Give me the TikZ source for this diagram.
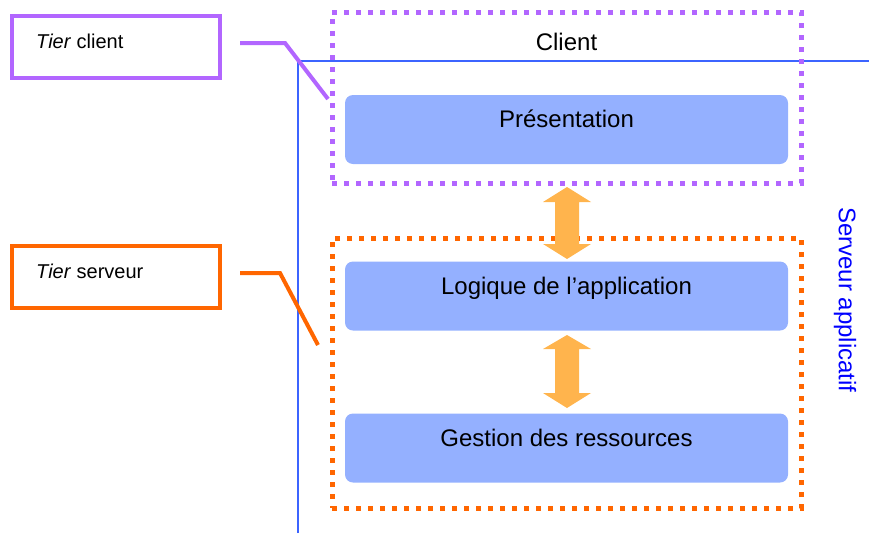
\documentclass[tikz,border=0pt]{standalone}
\usepackage{fontspec}
\setmainfont{Liberation Sans}
\usetikzlibrary{calc}
\definecolor{tierpurple}{RGB}{178,102,255}
\definecolor{tierorange}{RGB}{255,102,0}
\definecolor{layerblue}{RGB}{148,176,255}
\definecolor{axisblue}{RGB}{60,100,255}
\definecolor{arrowgold}{RGB}{255,180,77}
\begin{document}
\begin{tikzpicture}[x=1pt,y=-1pt,
  big/.style={font=\fontsize{24}{28}\selectfont},
  small/.style={font=\fontsize{20}{24}\selectfont},
  layer/.style={fill=layerblue, draw=none, rounded corners=8pt,
    minimum width=443pt, minimum height=69pt, inner sep=0pt},
  layerlabel/.style={big, anchor=base, inner sep=0pt},
  tierbox/.style={draw, line width=4pt, minimum width=208pt,
    minimum height=62pt, inner sep=0pt},
  tierlabel/.style={small, anchor=base west, inner sep=0pt},
  tiergroup/.style={draw, line width=5pt, dash pattern=on 5pt off 7pt,
    minimum width=469pt, inner sep=0pt},
  link/.style={line width=4pt},
  axis/.style={draw=axisblue, line width=1.6pt},
  updown/.style={fill=arrowgold, draw=none}]
\useasboundingbox (0,0) rectangle (869,533);

% blue axes of the application server
\coordinate (axtop) at (298,61);
\coordinate (axright) at (869,61);
\coordinate (axbottom) at (298,533);
\draw[axis] (axbottom) -- (axtop) -- (axright);
\node[big, text=blue, rotate=-90, inner sep=0pt] (srvlabel) at (845,300) {Serveur applicatif};

% tier groups (dotted frames)
\node[tiergroup, draw=tierpurple, minimum height=171pt] (clientgrp) at (566.5,97.5) {};
\node[tiergroup, draw=tierorange, minimum height=270pt] (servergrp) at (566.5,373) {};
\node[big, anchor=base, inner sep=0pt] (clientlabel) at (566.5,50) {Client};

% layers
\node[layer] (pres) at (566.5,129.5) {};
\node[layerlabel] (prestext) at ($(pres.north)+(0,33)$) {Présentation};
\node[layer] (logic) at (566.5,296) {};
\node[layerlabel] (logictext) at ($(logic.north)+(0,33)$) {Logique de l’application};
\node[layer] (res) at (566.5,448) {};
\node[layerlabel] (restext) at ($(res.north)+(0,33)$) {Gestion des ressources};

% double arrows between layers
\coordinate (a1) at (567,187);
\coordinate (a2) at (567,259);
\fill[updown] (a1) -- ++(24,15) -- ++(-12,0) -- ++(0,42) -- ++(12,0)
  -- (a2) -- ++(-24,-15) -- ++(12,0) -- ++(0,-42) -- ++(-12,0) -- cycle;
\coordinate (b1) at (567,335);
\coordinate (b2) at (567,408);
\fill[updown] (b1) -- ++(24,14) -- ++(-12,0) -- ++(0,44) -- ++(12,0)
  -- (b2) -- ++(-24,-15) -- ++(12,0) -- ++(0,-44) -- ++(-12,0) -- cycle;

% tier captions and their leaders
\node[tierbox, draw=tierpurple] (tc) at (116,47) {};
\node[tierlabel] (tctext) at (36,48) {\textit{Tier} client};
\node[tierbox, draw=tierorange] (ts) at (116,277) {};
\node[tierlabel] (tstext) at (36,278) {\textit{Tier} serveur};

\coordinate (tcend) at (328,99);
\coordinate (tsend) at (318,345);
\draw[link, tierpurple] ($(tc.east)+(18,-4)$) -- ++(45,0) -- (tcend);
\draw[link, tierorange] ($(ts.east)+(18,-4)$) -- ++(40,0) -- (tsend);
\end{tikzpicture}
\end{document}
